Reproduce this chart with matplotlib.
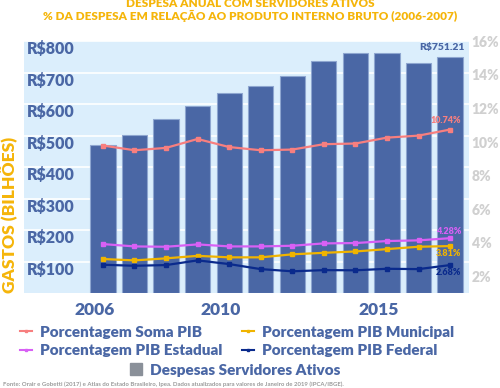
import numpy as np
import matplotlib
matplotlib.use('Agg')
from matplotlib import pyplot as plt
from matplotlib import transforms
from matplotlib.lines import Line2D
from matplotlib.patches import Patch

# data
years = np.arange(2006, 2018)
despesas = [472, 502, 553, 594, 634, 657, 688, 736, 763, 763, 732, 751.21]
soma_pib = [9.79, 9.51, 9.65, 10.18, 9.70, 9.51, 9.55, 9.87, 9.91, 10.26, 10.38, 10.74]
estadual_pib = [3.93, 3.79, 3.77, 3.91, 3.79, 3.79, 3.83, 3.97, 3.99, 4.11, 4.15, 4.28]
municipal_pib = [3.04, 2.96, 3.08, 3.23, 3.14, 3.14, 3.32, 3.41, 3.49, 3.63, 3.77, 3.81]
federal_pib = [2.70, 2.64, 2.68, 2.96, 2.74, 2.44, 2.31, 2.38, 2.37, 2.46, 2.44, 2.68]
left_ticks = [100, 200, 300, 400, 500, 600, 700, 800]
right_ticks = [2, 4, 6, 8, 10, 12, 14, 16]
year_ticks = [2006, 2010, 2015]

plt.rcParams['font.family'] = ['Lato', 'DejaVu Sans']

BLUE = '#4a67a5'
GOLD = '#f5b50a'
c_soma = '#f77f7f'
c_est = '#d860f5'
c_mun = '#f0b400'
c_fed = '#0a2a8c'

fig = plt.figure(figsize=(5, 3.88), dpi=100)
ax = fig.add_axes([0.048, 0.244, 0.89, 0.65])
ax.set_facecolor('#dbeefc')
ax.bar(years, despesas, width=0.8, color=BLUE, edgecolor='#8ea6d0', linewidth=0.8, zorder=2)
ax.set_ylim(0, 800)
ax.set_xlim(2003.5, 2017.6)
ax.set_yticks(left_ticks)
ax.set_yticklabels(['R$%d' % v for v in left_ticks])
ax.grid(axis='y', color='white', linewidth=1.2, zorder=1)
ax.set_axisbelow(True)
for s in ax.spines.values():
    s.set_visible(False)
ax.tick_params(axis='y', length=0, pad=-2, labelcolor=BLUE, labelsize=11.5)
for lab in ax.get_yticklabels():
    lab.set_ha('left')
    lab.set_va('top')
    lab.set_fontweight('heavy')
ax.set_xticks(year_ticks)
ax.set_xticklabels([str(y) for y in year_ticks])
ax.tick_params(axis='x', length=0, pad=6, labelcolor=BLUE, labelsize=12.5)
shift = transforms.ScaledTranslation(-8 / 100, 0, fig.dpi_scale_trans)
for lab in ax.get_xticklabels():
    lab.set_fontweight('heavy')
    lab.set_transform(lab.get_transform() + shift)
ax.set_ylabel('GASTOS (BILHÕES)', color=GOLD, fontsize=12.5, fontweight='heavy')
ax.yaxis.set_label_coords(-0.014, 0.31)
ax.text(years[-1] + 0.45, despesas[-1] + 14, 'R$%.2f' % despesas[-1], color=BLUE,
        fontsize=7.5, fontweight='heavy', ha='right', va='bottom', zorder=5)

ax2 = ax.twinx()
ax2.set_ylim(1, 16)
ax2.set_yticks(right_ticks)
ax2.set_yticklabels(['%d%%' % v for v in right_ticks])
ax2.tick_params(axis='y', length=0, pad=2, labelcolor='#d0d0d0', labelsize=10)
for lab in ax2.get_yticklabels():
    lab.set_fontweight('heavy')
for s in ax2.spines.values():
    s.set_visible(False)

series = [(soma_pib, c_soma), (estadual_pib, c_est), (municipal_pib, c_mun), (federal_pib, c_fed)]
for vals, col in series:
    ax2.plot(years, vals, color=col, linewidth=1.6, marker='s', markersize=2.2, zorder=4)

ax2.text(years[-1] + 0.35, soma_pib[-1] + 0.3, '%.2f%%' % soma_pib[-1], color=c_soma,
         fontsize=6.5, fontweight='heavy', ha='right', va='bottom')
ax2.text(years[-1] + 0.35, estadual_pib[-1] + 0.15, '%.2f%%' % estadual_pib[-1], color=c_est,
         fontsize=6.5, fontweight='heavy', ha='right', va='bottom')
ax2.text(years[-1] + 0.35, municipal_pib[-1] - 0.2, '%.2f%%' % municipal_pib[-1], color=c_mun,
         fontsize=6.5, fontweight='heavy', ha='right', va='top')
ax2.text(years[-1] + 0.35, federal_pib[-1] - 0.2, '%.2f%%' % federal_pib[-1], color=c_fed,
         fontsize=6.5, fontweight='heavy', ha='right', va='top')

fig.text(0.5, 0.99, 'DESPESA ANUAL COM SERVIDORES ATIVOS', color=GOLD, fontsize=8.5,
         fontweight='heavy', ha='center', va='center')
fig.text(0.5, 0.958, '% DA DESPESA EM RELAÇÃO AO PRODUTO INTERNO BRUTO (2006-2007)', color=GOLD,
         fontsize=8.5, fontweight='heavy', ha='center', va='center')

handles = [Line2D([], [], color=c_soma, marker='s', markersize=2, linewidth=1.5),
           Line2D([], [], color=c_est, marker='s', markersize=2, linewidth=1.5),
           Line2D([], [], color=c_mun, marker='s', markersize=2, linewidth=1.5),
           Line2D([], [], color=c_fed, marker='s', markersize=2, linewidth=1.5)]
labels = ['Porcentagem Soma PIB', 'Porcentagem PIB Estadual',
          'Porcentagem PIB Municipal', 'Porcentagem PIB Federal']
leg = fig.legend(handles, labels, ncol=2, loc='upper left', bbox_to_anchor=(0.025, 0.18),
                 frameon=False, fontsize=11, handlelength=0.8, handletextpad=0.5,
                 columnspacing=1.3, labelspacing=0.35, borderpad=0)
for t in leg.get_texts():
    t.set_color(BLUE)
    t.set_fontweight('heavy')
leg2 = fig.legend([Patch(color='#8a9099')], ['Despesas Servidores Ativos'], loc='upper center',
                  bbox_to_anchor=(0.47, 0.083), frameon=False, fontsize=11, handlelength=0.8,
                  handleheight=0.8, handletextpad=0.5, borderpad=0)
for t in leg2.get_texts():
    t.set_color(BLUE)
    t.set_fontweight('heavy')

fig.text(0.006, 0.003, 'Fonte: Orair e Gobetti (2017) e Atlas do Estado Brasileiro, Ipea. Dados atualizados '
         'para valores de Janeiro de 2019 (IPCA/IBGE).', color='#9a9a9a', fontsize=4.3,
         fontweight='bold', ha='left', va='bottom')

fig.savefig('out.png', dpi=100)
